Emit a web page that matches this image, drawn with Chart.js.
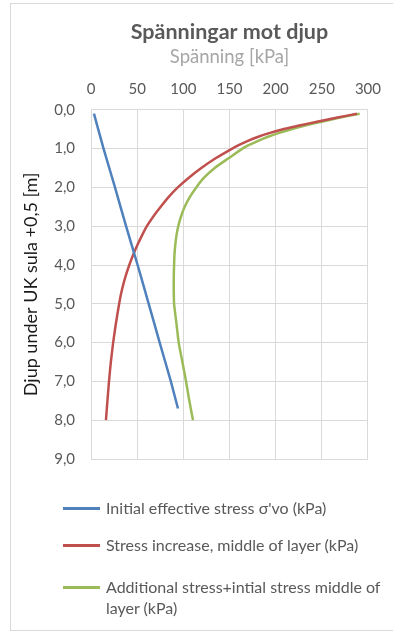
<!DOCTYPE html>
<html>
<head>
<meta charset="utf-8">
<script src="https://cdn.jsdelivr.net/npm/chart.js@4"></script>
<style>
  body { margin: 0; background: #fff; font-family: Lato, "Open Sans", sans-serif; }
  #frame { position: absolute; left: 10px; top: 3px; width: 400px; height: 626px; border: 1px solid #d9d9d9; }
  #myChart { position: absolute; left: 0; top: 0; }
  #legend { position: absolute; left: 63px; top: 0; color: #595959; font-size: 16px; }
  .item { position: absolute; left: 0; display: flex; align-items: flex-start; white-space: nowrap; }
  .item .line { width: 37px; height: 2.5px; margin-right: 6px; }
  .item .txt { width: 280px; white-space: normal; line-height: 21px; }
</style>
</head>
<body>
<div id="frame"></div>
<canvas id="myChart" width="393" height="632"></canvas>
<div id="legend"></div>
<script>
  const seriesNames = [
    "Initial effective stress σ'vo (kPa)",
    'Stress increase, middle of layer (kPa)',
    'Additional stress+intial stress middle of layer (kPa)'
  ];
  const seriesColors = ['#4f81bd', '#c0504d', '#9bbb59'];

  // djup (m)
  const initialDepth = [0.1, 1.0, 2.0, 3.0, 4.0, 5.0, 6.0, 7.0, 7.7];
  const initialStress = [3.2, 13.6, 26, 38, 50.5, 62.5, 74.4, 86.5, 94.2];

  const layerDepth = [0.1, 0.2, 0.3, 0.4, 0.5, 0.6, 0.7, 0.8, 0.9, 1.0,
    1.25, 1.5, 1.75, 2.0, 2.25, 2.5, 2.75, 3.0, 3.25, 3.5, 3.75, 4.0, 4.25, 4.5, 4.75, 5.0,
    5.5, 6.0, 6.5, 7.0, 7.5, 8.0];
  const stressIncrease = [288, 267, 246, 227, 208, 193, 180.5, 170, 161, 153,
    135, 119.5, 106, 94, 84, 75.5, 67.5, 60.5, 55, 50, 45.5, 41.5, 38, 35, 32.5, 30.5,
    27, 24, 21.5, 19.5, 17.8, 16.2];
  const totalStress = [291, 270, 251, 233, 217, 203, 191, 181, 172, 164,
    149, 134, 122.5, 114, 107, 101.5, 97.5, 94.5, 92.5, 91.2, 90.4, 90, 89.7, 89.6, 89.7, 90,
    92.5, 95, 99, 103, 106.5, 110.5];

  const stressTicks = ['0', '50', '100', '150', '200', '250', '300'];
  const depthTicks = ['0,0', '1,0', '2,0', '3,0', '4,0', '5,0', '6,0', '7,0', '8,0', '9,0'];

  const toPoints = (xs, ys) => xs.map((d, i) => ({ x: ys[i], y: d }));

  const font = 'Lato, "Open Sans", sans-serif';
  const lineStyle = { showLine: true, pointRadius: 0, borderWidth: 2.5, tension: 0.2, fill: false };

  const ctx = document.getElementById('myChart');

  const chart = new Chart(ctx, {
    type: 'scatter',
    data: {
      datasets: [
        { label: seriesNames[0], data: toPoints(initialDepth, initialStress), borderColor: seriesColors[0], backgroundColor: seriesColors[0], ...lineStyle },
        { label: seriesNames[1], data: toPoints(layerDepth, stressIncrease), borderColor: seriesColors[1], backgroundColor: seriesColors[1], ...lineStyle },
        { label: seriesNames[2], data: toPoints(layerDepth, totalStress), borderColor: seriesColors[2], backgroundColor: seriesColors[2], ...lineStyle }
      ]
    },
    options: {
      responsive: false,
      animation: false,
      devicePixelRatio: 1,
      layout: { padding: { left: 10, right: 24, top: 10, bottom: 173 } },
      plugins: {
        legend: { display: false },
        tooltip: { enabled: false },
        title: {
          display: true,
          fullSize: false,
          text: 'Spänningar mot djup',
          color: '#595959',
          font: { family: font, size: 21.5, weight: 'bold' },
          padding: { top: 9, bottom: 0 }
        }
      },
      scales: {
        x: {
          type: 'linear',
          position: 'top',
          min: 0,
          max: 300,
          afterFit: s => { s.height = 65; },
          ticks: {
            stepSize: 50,
            color: '#595959',
            font: { family: font, size: 15 },
            padding: 12,
            callback: (v, i) => stressTicks[i]
          },
          grid: { color: '#d9d9d9', drawTicks: false },
          border: { color: '#d9d9d9' },
          title: {
            display: true,
            text: 'Spänning [kPa]',
            color: '#a6a6a6',
            font: { family: font, size: 18.5 },
            padding: { top: 1.5, bottom: 0 }
          }
        },
        y: {
          type: 'linear',
          reverse: true,
          min: 0,
          max: 9,
          afterFit: s => { s.width = 81; },
          ticks: {
            stepSize: 1,
            color: '#595959',
            font: { family: font, size: 15 },
            padding: 16,
            callback: v => depthTicks[Math.round(v)]
          },
          grid: { color: '#d9d9d9', drawTicks: false },
          border: { color: '#d9d9d9' },
          title: {
            display: true,
            text: 'Djup under UK sula +0,5 [m]',
            color: '#1a1a1a',
            font: { family: font, size: 18 },
            padding: { top: 10, bottom: 0 }
          }
        }
      }
    }
  });

  // legend i HTML, en rad per serie
  const legendTops = [497, 534, 576];
  const legendEl = document.getElementById('legend');
  chart.data.datasets.forEach((ds, i) => {
    const item = document.createElement('div');
    item.className = 'item';
    item.style.top = legendTops[i] + 'px';
    const line = document.createElement('div');
    line.className = 'line';
    line.style.background = ds.borderColor;
    line.style.marginTop = '10px';
    const txt = document.createElement('div');
    txt.className = 'txt';
    txt.textContent = ds.label;
    item.appendChild(line);
    item.appendChild(txt);
    legendEl.appendChild(item);
  });
</script>
</body>
</html>
